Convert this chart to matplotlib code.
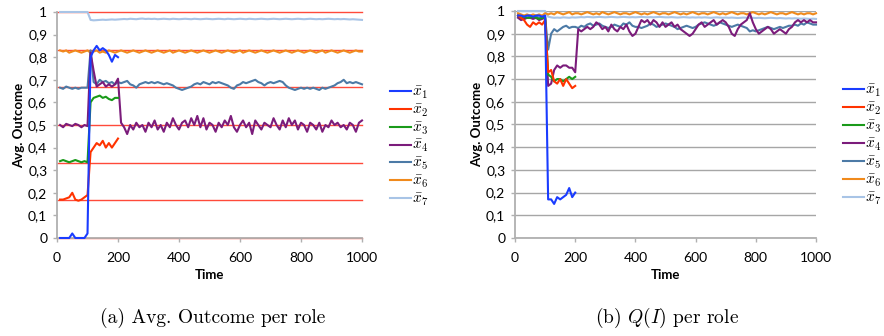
import matplotlib
matplotlib.use("Agg")
import matplotlib.pyplot as plt
from matplotlib.ticker import FixedLocator

plt.rcParams['mathtext.fontset'] = 'cm'
plt.rcParams['font.family'] = ['Lato', 'DejaVu Sans']

# ---------------- data ----------------
t_long = list(range(10, 1001, 10))
t_short = list(range(10, 201, 10))

labels = [r'$\bar{x}_1$', r'$\bar{x}_2$', r'$\bar{x}_3$', r'$\bar{x}_4$',
          r'$\bar{x}_5$', r'$\bar{x}_6$', r'$\bar{x}_7$']
colors = ['#1a3cff', '#ff3300', '#1a9a1a', '#7b1c7b', '#4c7aa6', '#f08a1c', '#a8c4e6']

ref_levels = [0, 1/6, 1/3, 1/2, 2/3, 5/6, 1]
ytick_vals = [0, 0.1, 0.2, 0.3, 0.4, 0.5, 0.6, 0.7, 0.8, 0.9, 1]
ytick_labels = ['0', '0,1', '0,2', '0,3', '0,4', '0,5', '0,6', '0,7', '0,8', '0,9', '1']
xtick_vals = [0, 200, 400, 600, 800, 1000]

# (a) Avg. outcome per role
a_x1 = [0, 0, 0, 0, 0.02, 0, 0, 0, 0, 0.02,
        0.80, 0.83, 0.85, 0.83, 0.84, 0.83, 0.81, 0.78, 0.81, 0.80]
a_x2 = [0.17, 0.17, 0.175, 0.18, 0.20, 0.17, 0.165, 0.17, 0.18, 0.19,
        0.38, 0.40, 0.42, 0.41, 0.43, 0.40, 0.42, 0.40, 0.42, 0.44]
a_x3 = [0.34, 0.345, 0.34, 0.335, 0.34, 0.345, 0.34, 0.335, 0.34, 0.335,
        0.60, 0.62, 0.625, 0.63, 0.62, 0.625, 0.615, 0.61, 0.62, 0.62]
a_x4 = [0.50, 0.49, 0.505, 0.50, 0.495, 0.505, 0.50, 0.49, 0.50, 0.495,
        0.82, 0.74, 0.67, 0.68, 0.69, 0.67, 0.68, 0.67, 0.68, 0.705,
        0.51, 0.49, 0.46, 0.50, 0.48, 0.51, 0.49, 0.50, 0.47, 0.51,
        0.49, 0.52, 0.48, 0.50, 0.47, 0.51, 0.49, 0.53, 0.50, 0.48,
        0.51, 0.52, 0.49, 0.53, 0.50, 0.54, 0.49, 0.53, 0.48, 0.51,
        0.50, 0.47, 0.51, 0.49, 0.52, 0.50, 0.54, 0.49, 0.47, 0.50,
        0.52, 0.49, 0.51, 0.46, 0.52, 0.50, 0.48, 0.51, 0.50, 0.49,
        0.53, 0.50, 0.48, 0.52, 0.49, 0.53, 0.50, 0.52, 0.48, 0.51,
        0.50, 0.47, 0.51, 0.50, 0.48, 0.51, 0.47, 0.50, 0.49, 0.52,
        0.50, 0.51, 0.49, 0.50, 0.48, 0.51, 0.50, 0.47, 0.51, 0.52]
a_x5 = [0.665, 0.66, 0.67, 0.665, 0.66, 0.665, 0.66, 0.665, 0.665, 0.665,
        0.83, 0.69, 0.68, 0.70, 0.69, 0.695, 0.685, 0.69, 0.68, 0.69,
        0.685, 0.69, 0.695, 0.68, 0.675, 0.665, 0.68, 0.685, 0.69, 0.685,
        0.69, 0.685, 0.69, 0.685, 0.68, 0.685, 0.68, 0.675, 0.665, 0.66,
        0.655, 0.66, 0.665, 0.67, 0.68, 0.685, 0.68, 0.69, 0.685, 0.68,
        0.69, 0.685, 0.69, 0.685, 0.68, 0.675, 0.665, 0.66, 0.675, 0.68,
        0.69, 0.685, 0.69, 0.695, 0.70, 0.69, 0.685, 0.675, 0.685, 0.69,
        0.685, 0.69, 0.695, 0.69, 0.675, 0.665, 0.66, 0.655, 0.66, 0.665,
        0.66, 0.665, 0.66, 0.665, 0.66, 0.655, 0.665, 0.66, 0.665, 0.67,
        0.675, 0.685, 0.69, 0.70, 0.685, 0.69, 0.685, 0.69, 0.685, 0.68]
a_x6 = [0.83, 0.825, 0.83, 0.82, 0.825, 0.83, 0.825, 0.82, 0.825, 0.83,
        0.82, 0.825, 0.83, 0.82, 0.825, 0.82, 0.83, 0.825, 0.82, 0.825,
        0.83, 0.825, 0.82, 0.825, 0.83, 0.825, 0.82, 0.825, 0.83, 0.825,
        0.82, 0.825, 0.83, 0.825, 0.82, 0.825, 0.83, 0.82, 0.825, 0.83,
        0.825, 0.82, 0.825, 0.83, 0.825, 0.82, 0.825, 0.83, 0.825, 0.82,
        0.825, 0.83, 0.825, 0.82, 0.825, 0.83, 0.825, 0.82, 0.825, 0.83,
        0.82, 0.825, 0.83, 0.825, 0.82, 0.825, 0.83, 0.825, 0.82, 0.825,
        0.83, 0.825, 0.82, 0.825, 0.83, 0.825, 0.82, 0.825, 0.83, 0.825,
        0.82, 0.825, 0.83, 0.825, 0.82, 0.825, 0.83, 0.82, 0.825, 0.83,
        0.825, 0.82, 0.825, 0.83, 0.825, 0.82, 0.825, 0.83, 0.825, 0.825]
a_x7 = [1.0, 1.0, 1.0, 1.0, 1.0, 1.0, 1.0, 1.0, 1.0, 1.0,
        0.965, 0.963, 0.964, 0.965, 0.966, 0.965, 0.966, 0.967, 0.966, 0.967,
        0.968, 0.969, 0.968, 0.970, 0.969, 0.968, 0.970, 0.971, 0.969, 0.970,
        0.969, 0.970, 0.968, 0.969, 0.970, 0.969, 0.968, 0.970, 0.969, 0.968,
        0.969, 0.970, 0.969, 0.968, 0.970, 0.969, 0.968, 0.969, 0.970, 0.969,
        0.968, 0.969, 0.970, 0.969, 0.968, 0.970, 0.969, 0.968, 0.969, 0.970,
        0.969, 0.968, 0.970, 0.969, 0.968, 0.969, 0.970, 0.969, 0.968, 0.969,
        0.970, 0.969, 0.968, 0.969, 0.970, 0.969, 0.968, 0.969, 0.970, 0.969,
        0.968, 0.969, 0.970, 0.969, 0.968, 0.969, 0.968, 0.969, 0.970, 0.969,
        0.968, 0.969, 0.968, 0.969, 0.968, 0.967, 0.968, 0.967, 0.966, 0.965]

# (b) Q(I) per role
b_x1 = [0.98, 0.98, 0.975, 0.98, 0.98, 0.975, 0.98, 0.98, 0.975, 0.98,
        0.17, 0.17, 0.15, 0.18, 0.17, 0.18, 0.19, 0.22, 0.18, 0.20]
b_x2 = [0.98, 0.97, 0.96, 0.94, 0.93, 0.95, 0.94, 0.95, 0.94, 0.96,
        0.73, 0.74, 0.69, 0.68, 0.70, 0.67, 0.70, 0.68, 0.66, 0.67]
b_x3 = [0.98, 0.97, 0.975, 0.97, 0.97, 0.975, 0.97, 0.965, 0.97, 0.97,
        0.72, 0.71, 0.69, 0.70, 0.70, 0.69, 0.70, 0.71, 0.70, 0.71]
b_x4 = [0.97, 0.96, 0.965, 0.97, 0.97, 0.965, 0.97, 0.96, 0.965, 0.97,
        0.67, 0.68, 0.74, 0.76, 0.75, 0.76, 0.76, 0.75, 0.75, 0.73,
        0.92, 0.91, 0.92, 0.93, 0.92, 0.93, 0.95, 0.94, 0.92, 0.93,
        0.91, 0.94, 0.92, 0.91, 0.93, 0.92, 0.94, 0.91, 0.89, 0.90,
        0.93, 0.96, 0.95, 0.96, 0.94, 0.96, 0.95, 0.93, 0.95, 0.93,
        0.94, 0.95, 0.93, 0.94, 0.92, 0.91, 0.90, 0.89, 0.90, 0.92,
        0.94, 0.95, 0.93, 0.94, 0.95, 0.96, 0.94, 0.95, 0.96, 0.95,
        0.93, 0.90, 0.89, 0.92, 0.94, 0.95, 0.96, 0.99, 0.95, 0.92,
        0.90, 0.91, 0.92, 0.93, 0.92, 0.90, 0.91, 0.92, 0.91, 0.90,
        0.92, 0.93, 0.95, 0.96, 0.95, 0.96, 0.95, 0.96, 0.95, 0.95]
b_x5 = [0.975, 0.97, 0.965, 0.97, 0.975, 0.97, 0.975, 0.97, 0.97, 0.975,
        0.83, 0.90, 0.92, 0.91, 0.92, 0.93, 0.935, 0.925, 0.93, 0.93,
        0.925, 0.935, 0.93, 0.94, 0.945, 0.935, 0.94, 0.945, 0.935, 0.93,
        0.925, 0.93, 0.94, 0.935, 0.93, 0.945, 0.94, 0.95, 0.935, 0.93,
        0.93, 0.925, 0.93, 0.935, 0.945, 0.94, 0.93, 0.935, 0.94, 0.945,
        0.94, 0.935, 0.93, 0.92, 0.925, 0.93, 0.935, 0.93, 0.925, 0.93,
        0.94, 0.945, 0.95, 0.945, 0.94, 0.935, 0.94, 0.95, 0.945, 0.94,
        0.935, 0.93, 0.935, 0.94, 0.935, 0.93, 0.925, 0.91, 0.915, 0.91,
        0.915, 0.92, 0.925, 0.93, 0.925, 0.92, 0.925, 0.93, 0.925, 0.93,
        0.935, 0.935, 0.94, 0.935, 0.945, 0.94, 0.95, 0.945, 0.94, 0.94]
b_x6 = [0.99, 0.985, 0.98, 0.985, 0.98, 0.985, 0.98, 0.985, 0.98, 0.99,
        0.985, 0.99, 0.985, 0.995, 0.99, 0.985, 0.99, 0.995, 0.985, 0.99,
        0.99, 0.985, 0.99, 0.995, 0.99, 0.985, 0.99, 0.985, 0.995, 0.99,
        0.985, 0.99, 0.995, 0.99, 0.985, 0.99, 0.99, 0.985, 0.99, 0.995,
        0.99, 0.985, 0.99, 0.985, 0.99, 0.995, 0.99, 0.985, 0.99, 0.99,
        0.985, 0.99, 0.995, 0.99, 0.985, 0.99, 0.985, 0.99, 0.995, 0.99,
        0.985, 0.99, 0.99, 0.985, 0.99, 0.995, 0.99, 0.985, 0.99, 0.985,
        0.99, 0.995, 0.99, 0.985, 0.99, 0.99, 0.985, 0.99, 0.995, 0.99,
        0.985, 0.99, 0.985, 0.99, 0.995, 0.99, 0.985, 0.99, 0.99, 0.985,
        0.99, 0.995, 0.99, 0.985, 0.99, 0.985, 0.99, 0.99, 0.985, 0.99]
b_x7 = [1.0, 1.0, 1.0, 1.0, 1.0, 1.0, 1.0, 1.0, 1.0, 1.0,
        0.975, 0.972, 0.970, 0.971, 0.970, 0.972, 0.971, 0.970, 0.972, 0.971,
        0.972, 0.973, 0.972, 0.974, 0.973, 0.972, 0.973, 0.974, 0.973, 0.972,
        0.973, 0.974, 0.973, 0.972, 0.973, 0.974, 0.973, 0.972, 0.973, 0.972,
        0.973, 0.974, 0.973, 0.972, 0.973, 0.972, 0.973, 0.974, 0.973, 0.972,
        0.972, 0.973, 0.972, 0.971, 0.972, 0.973, 0.972, 0.971, 0.972, 0.971,
        0.972, 0.971, 0.972, 0.971, 0.970, 0.971, 0.972, 0.971, 0.970, 0.971,
        0.970, 0.971, 0.970, 0.969, 0.970, 0.971, 0.970, 0.969, 0.970, 0.969,
        0.970, 0.969, 0.968, 0.969, 0.970, 0.969, 0.968, 0.969, 0.968, 0.967,
        0.968, 0.967, 0.968, 0.967, 0.966, 0.967, 0.966, 0.965, 0.966, 0.965]

series_a = [a_x1, a_x2, a_x3, a_x4, a_x5, a_x6, a_x7]
series_b = [b_x1, b_x2, b_x3, b_x4, b_x5, b_x6, b_x7]

# ---------------- figure ----------------
fig = plt.figure(figsize=(8.84, 3.36), dpi=100)
ax_a = fig.add_axes([0.0645, 0.2917, 0.345, 0.6726])
ax_b = fig.add_axes([0.5826, 0.2917, 0.3405, 0.6756])

spine_col = '#b0b0b0'


def style(ax, grid):
    ax.set_xlim(0, 1000)
    ax.set_ylim(0, 1)
    ax.yaxis.set_major_locator(FixedLocator(ytick_vals))
    ax.set_yticklabels(ytick_labels)
    ax.xaxis.set_major_locator(FixedLocator(xtick_vals))
    ax.set_xticklabels([str(v) for v in xtick_vals])
    for s in ['top', 'right']:
        ax.spines[s].set_visible(False)
    for s in ['left', 'bottom']:
        ax.spines[s].set_color(spine_col)
        ax.spines[s].set_linewidth(1.3)
    ax.tick_params(axis='both', colors=spine_col, labelcolor='black',
                   labelsize=10, length=3, width=1.0)
    ax.tick_params(axis='x', pad=7)
    ax.tick_params(axis='y', pad=4)
    if grid:
        ax.yaxis.grid(True, color='#a6a6a6', linewidth=1.0)
        ax.set_axisbelow(True)
    ax.set_xlabel('Time', fontsize=9.5, fontweight='bold', labelpad=4)
    ax.set_ylabel('Avg. Outcome', fontsize=9.5, fontweight='bold', labelpad=2)


style(ax_a, grid=False)
style(ax_b, grid=True)

for lvl in ref_levels:
    ax_a.axhline(lvl, color='#ff4a3a', linewidth=1.0, zorder=1, clip_on=False)

handles_a = []
for i in reversed(range(7)):
    t = t_short if len(series_a[i]) == len(t_short) else t_long
    h, = ax_a.plot(t, series_a[i], color=colors[i], linewidth=1.5,
                   label=labels[i], zorder=2 + (6 - i), clip_on=False)
    handles_a.insert(0, h)

handles_b = []
for i in reversed(range(7)):
    t = t_short if len(series_b[i]) == len(t_short) else t_long
    h, = ax_b.plot(t, series_b[i], color=colors[i], linewidth=1.5,
                   label=labels[i], zorder=2 + (6 - i), clip_on=False)
    handles_b.insert(0, h)

leg_kw = dict(frameon=False, fontsize=11, handlelength=1.35, handletextpad=0.1,
              labelspacing=0.12, borderpad=0, borderaxespad=0, loc='center left')
ax_a.legend(handles_a, labels, bbox_to_anchor=(1.092, 0.405), **leg_kw)
ax_b.legend(handles_b, labels, bbox_to_anchor=(1.090, 0.41), **leg_kw)

fig.text(0.241, 0.053, '(a) Avg. Outcome per role', ha='center', va='center',
         fontsize=14, family='cmr10')
fig.text(0.755, 0.053, r'(b) $Q(I)$ per role', ha='center', va='center',
         fontsize=14, family='cmr10')

fig.savefig('out.png', dpi=100)
